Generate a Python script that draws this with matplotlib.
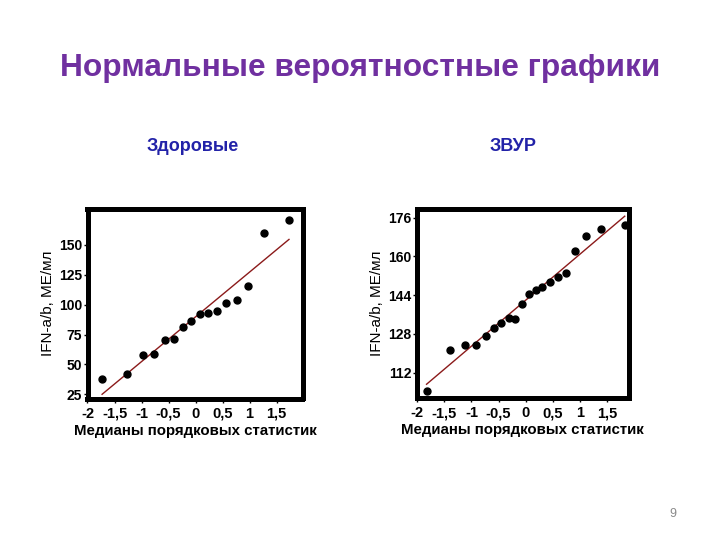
import numpy as np
import matplotlib
matplotlib.use('Agg')
import matplotlib.pyplot as plt
from matplotlib.ticker import FixedLocator

plt.rcParams['font.family'] = ['Liberation Sans', 'DejaVu Sans']

# Здоровые (16 obs)
healthy_x = [-1.73, -1.27, -0.98, -0.76, -0.57, -0.39, -0.23, -0.08,
             0.08, 0.23, 0.39, 0.57, 0.76, 0.98, 1.27, 1.73]
healthy_y = [37.8, 42.0, 57.9, 59.0, 70.4, 71.3, 81.0, 86.3,
             92.2, 93.3, 94.4, 101.1, 103.6, 115.7, 159.8, 170.9]

# ЗВУР (20 obs)
iugr_x = [-1.83, -1.39, -1.12, -0.91, -0.74, -0.59, -0.45, -0.31, -0.19, -0.06,
          0.06, 0.19, 0.31, 0.45, 0.59, 0.74, 0.91, 1.12, 1.39, 1.83]
iugr_y = [104.5, 121.3, 123.4, 123.4, 127.2, 130.5, 132.4, 134.4, 134.2, 140.3,
          144.3, 146.1, 147.2, 149.3, 151.4, 153.3, 162.2, 168.3, 171.2, 173.1]

x_ticks = [-2, -1.5, -1, -0.5, 0, 0.5, 1, 1.5]
x_ticklabels = ['-2', '-1,5', '-1', '-0,5', '0', '0,5', '1', '1,5']
healthy_yticks = [25, 50, 75, 100, 125, 150]
iugr_yticks = [112, 128, 144, 160, 176]

TITLE_C = '#7030A0'
SUB_C = '#2222A8'
LINE_C = '#8B1A1A'

fig = plt.figure(figsize=(7.2, 5.4), dpi=100)
W, H = 720, 540

def make_ax(x0, x1, y0, y1):
    return fig.add_axes([x0 / W, 1 - y1 / H, (x1 - x0) / W, (y1 - y0) / H])

def qq_panel(ax, xs, ys, xlim, ylim, yticks):
    xs = np.array(xs); ys = np.array(ys)
    k, b = np.polyfit(xs, ys, 1)
    xl = np.array([xs.min(), xs.max()])
    ax.plot(xl, k * xl + b, color=LINE_C, lw=1.0, zorder=2)
    ax.plot(xs, ys, 'o', color='black', ms=5, zorder=3)
    ax.set_xlim(*xlim)
    ax.set_ylim(*ylim)
    ax.xaxis.set_major_locator(FixedLocator(x_ticks))
    ax.set_xticklabels(x_ticklabels, fontsize=10.5, fontweight='bold')
    ax.set_yticks(yticks)
    ax.set_yticklabels([str(t) for t in yticks], fontsize=10, fontweight='bold')
    ax.tick_params(direction='out', length=3, width=1)
    ax.tick_params(axis='x', pad=3)
    ax.tick_params(axis='y', pad=1)
    for s in ax.spines.values():
        s.set_linewidth(3.6)
    ax.set_xlabel('Медианы порядковых статистик', fontsize=10.8, fontweight='bold', labelpad=2)
    ax.set_ylabel('IFN-a/b, МЕ/мл', fontsize=11, labelpad=3)

ax1 = make_ax(87.5, 302.5, 209, 398.5)
qq_panel(ax1, healthy_x, healthy_y, (-2.0, 1.98), (21.5, 180), healthy_yticks)

ax2 = make_ax(416.8, 628.5, 209, 398)
qq_panel(ax2, iugr_x, iugr_y, (-2.01, 1.90), (101.5, 179.6), iugr_yticks)

fig.text(360 / W, 1 - 68 / H, 'Нормальные вероятностные графики', ha='center', va='center',
         fontsize=22.8, fontweight='bold', color=TITLE_C)
fig.text(193 / W, 1 - 147 / H, 'Здоровые', ha='center', va='center',
         fontsize=13, fontweight='bold', color=SUB_C)
fig.text(513 / W, 1 - 147 / H, 'ЗВУР', ha='center', va='center',
         fontsize=13, fontweight='bold', color=SUB_C)
fig.text(673 / W, 1 - 514 / H, '9', ha='center', va='center', fontsize=9, color='#8a8a8a')

fig.savefig('out.png', dpi=100)
